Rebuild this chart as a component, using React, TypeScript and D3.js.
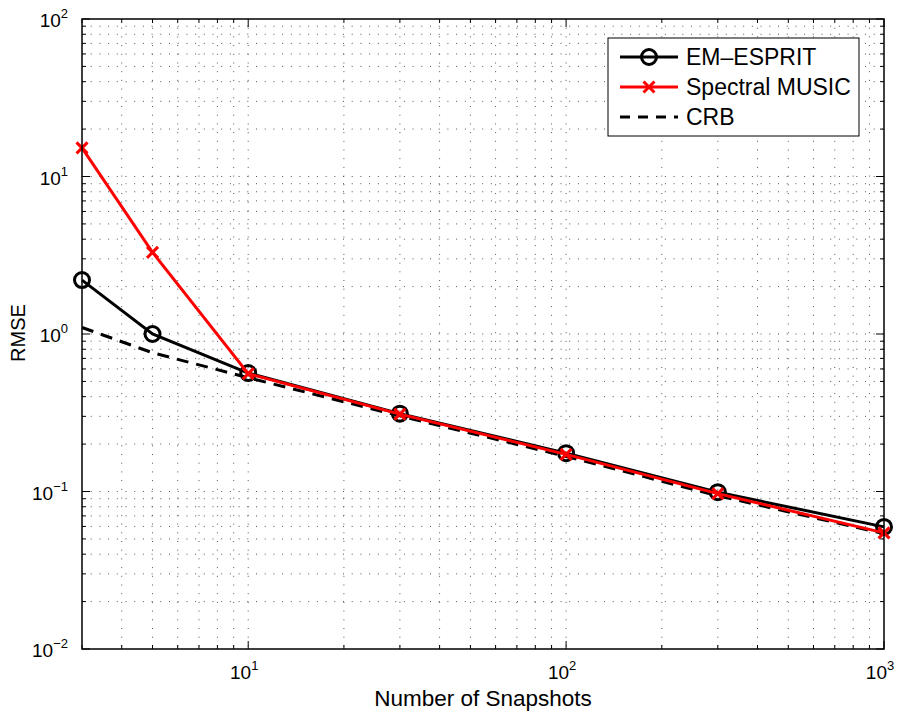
import React from "react";
import * as d3 from "d3";

const snapshots = [3, 5, 10, 30, 100, 300, 1000];
const emEsprit = [2.2, 1.0, 0.565, 0.312, 0.175, 0.099, 0.0596];
const spectralMusic = [15.2, 3.3, 0.56, 0.31, 0.172, 0.097, 0.0546];
const crb = [1.1, 0.76, 0.528, 0.302, 0.167, 0.094, 0.054];
const xTickExps = [1, 2, 3];
const yTickExps = [-2, -1, 0, 1, 2];

const W = 903, H = 713;
const L = 82, R = 884, T = 19, B = 649;
const FONT = "'Liberation Sans', Arial, Helvetica, sans-serif";

export default function App() {
  const x = d3.scaleLog().domain([3, 1000]).range([L, R]);
  const y = d3.scaleLog().domain([0.01, 100]).range([B, T]);

  const xMinor: number[] = [];
  for (let e = 0; e <= 2; e++) for (let m = 1; m <= 9; m++) {
    const v = m * Math.pow(10, e);
    if (v >= 3 && v <= 1000) xMinor.push(v);
  }
  xMinor.push(1000);
  const yMinor: number[] = [];
  for (let e = -2; e <= 1; e++) for (let m = 1; m <= 9; m++) yMinor.push(m * Math.pow(10, e));
  yMinor.push(100);

  const line = (vals: number[]) =>
    d3.line<number>().x((_, i) => x(snapshots[i])).y((d) => y(d))(vals) || "";

  const isMajor = (v: number) => Math.abs(Math.log10(v) - Math.round(Math.log10(v))) < 1e-9;

  const gridStyle = { stroke: "#555", strokeWidth: 1, strokeDasharray: "1,7.7" };

  return (
    <svg width={W} height={H} style={{ position: "absolute", left: 0, top: 0, background: "#fff" }}>
      <rect x={0} y={0} width={W} height={H} fill="#fff" />
      {xMinor.filter((v) => v > 3 && v < 1000).map((v, i) => (
        <line key={"gx" + i} x1={x(v)} x2={x(v)} y1={T} y2={B} {...gridStyle} />
      ))}
      {yMinor.filter((v) => v > 0.01 && v < 100).map((v, i) => (
        <line key={"gy" + i} x1={L} x2={R} y1={y(v)} y2={y(v)} {...gridStyle} />
      ))}
      {xMinor.map((v, i) => {
        const len = isMajor(v) ? 8 : 4;
        return (
          <g key={"tx" + i} stroke="#000" strokeWidth={1}>
            <line x1={x(v)} x2={x(v)} y1={B} y2={B - len} />
            <line x1={x(v)} x2={x(v)} y1={T} y2={T + len} />
          </g>
        );
      })}
      {yMinor.map((v, i) => {
        const len = isMajor(v) ? 8 : 4;
        return (
          <g key={"ty" + i} stroke="#000" strokeWidth={1}>
            <line x1={L} x2={L + len} y1={y(v)} y2={y(v)} />
            <line x1={R} x2={R - len} y1={y(v)} y2={y(v)} />
          </g>
        );
      })}
      <path d={line(crb)} fill="none" stroke="#000" strokeWidth={3} strokeDasharray="12,8" />
      <path d={line(emEsprit)} fill="none" stroke="#000" strokeWidth={3} />
      {emEsprit.map((v, i) => (
        <circle key={"c" + i} cx={x(snapshots[i])} cy={y(v)} r={7.5} fill="none" stroke="#000" strokeWidth={3} />
      ))}
      <path d={line(spectralMusic)} fill="none" stroke="#f00" strokeWidth={3} />
      {spectralMusic.map((v, i) => {
        const cx = x(snapshots[i]), cy = y(v), s = 5.5;
        return (
          <path key={"m" + i} d={`M${cx - s},${cy - s}L${cx + s},${cy + s}M${cx - s},${cy + s}L${cx + s},${cy - s}`}
            stroke="#f00" strokeWidth={3} fill="none" />
        );
      })}
      <rect x={L} y={T} width={R - L} height={B - T} fill="none" stroke="#000" strokeWidth={1.5} />
      {xTickExps.map((e) => (
        <text key={"xl" + e} x={x(Math.pow(10, e)) - 4} y={679} fontFamily={FONT} fontSize={19} textAnchor="middle">
          10<tspan dy={-9} fontSize={13}>{e}</tspan>
        </text>
      ))}
      {yTickExps.map((e) => (
        <text key={"yl" + e} x={68} y={y(Math.pow(10, e)) + 8} fontFamily={FONT} fontSize={19} textAnchor="end">
          10<tspan dy={-9} fontSize={13}>{e < 0 ? "\u2212" + Math.abs(e) : e}</tspan>
        </text>
      ))}
      <text x={483} y={706} fontFamily={FONT} fontSize={22.5} textAnchor="middle">Number of Snapshots</text>
      <text transform={`translate(25,333) rotate(-90)`} fontFamily={FONT} fontSize={20} textAnchor="middle">RMSE</text>
      <g>
        <rect x={608} y={38} width={251} height={98} fill="#fff" stroke="#000" strokeWidth={1} />
        <line x1={620} x2={678} y1={57} y2={57} stroke="#000" strokeWidth={3} />
        <circle cx={649} cy={57} r={7.5} fill="none" stroke="#000" strokeWidth={3} />
        <text x={686} y={65} fontFamily={FONT} fontSize={23}>EM–ESPRIT</text>
        <line x1={620} x2={678} y1={87} y2={87} stroke="#f00" strokeWidth={3} />
        <path d="M643.5,81.5L654.5,92.5M643.5,92.5L654.5,81.5" stroke="#f00" strokeWidth={3} />
        <text x={686} y={95} fontFamily={FONT} fontSize={23}>Spectral MUSIC</text>
        <line x1={620} x2={678} y1={117} y2={117} stroke="#000" strokeWidth={3} strokeDasharray="10,8" />
        <text x={686} y={125} fontFamily={FONT} fontSize={23}>CRB</text>
      </g>
    </svg>
  );
}
